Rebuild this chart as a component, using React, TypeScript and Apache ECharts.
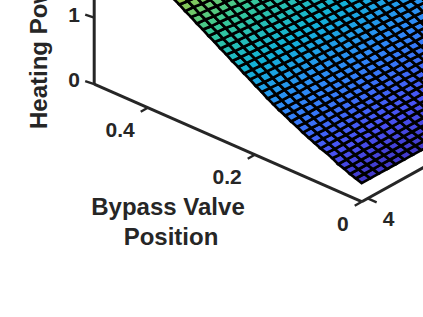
import React, { useEffect, useRef } from "react";
import * as echarts from "echarts";

const valveStep = 0.011;
// Heating power: one row per valve position, one value per temperature step
const powerRows: number[][] = [
  [.28,.28,.28,.28,.28,.28,.28,.28,.28,.28],
  [.31,.31,.31,.31,.31,.31,.31,.31,.31,.31,.31],
  [.34,.34,.34,.34,.34,.34,.34,.34,.34,.34,.34,.33],
  [.38,.37,.37,.37,.37,.37,.37,.37,.37,.37,.37,.36],
  [.41,.41,.41,.41,.40,.40,.40,.40,.40,.40,.40,.40,.39],
  [.46,.45,.45,.45,.45,.45,.44,.44,.44,.44,.44,.43,.43,.43],
  [.50,.49,.49,.49,.49,.48,.48,.48,.48,.48,.47,.47,.47,.47,.46],
  [.53,.53,.53,.52,.52,.52,.52,.51,.51,.51,.51,.50,.50,.50,.50],
  [.57,.57,.56,.56,.56,.56,.55,.55,.55,.54,.54,.54,.54,.53,.53,.53],
  [.61,.61,.60,.60,.60,.59,.59,.59,.58,.58,.58,.57,.57,.57,.56,.56,.56],
  [.65,.65,.64,.64,.64,.63,.63,.62,.62,.62,.61,.61,.61,.60,.60,.59,.59,.59],
  [.70,.69,.69,.69,.68,.68,.67,.67,.66,.66,.65,.65,.65,.64,.64,.63,.63,.62],
  [.74,.74,.73,.73,.72,.72,.71,.71,.70,.70,.69,.69,.68,.68,.68,.67,.67,.66,.66],
  [.79,.78,.78,.77,.77,.76,.75,.75,.74,.74,.73,.73,.72,.72,.71,.71,.70,.70,.69],
  [.83,.82,.82,.81,.81,.80,.80,.79,.79,.78,.78,.77,.76,.76,.75,.75,.74,.74,.73,.73],
  [.88,.87,.87,.86,.86,.85,.84,.84,.83,.83,.82,.81,.81,.80,.80,.79,.78,.78,.77,.77,.76],
  [.93,.92,.92,.91,.90,.90,.89,.88,.88,.87,.87,.86,.85,.85,.84,.83,.83,.82,.81,.81,.80,.79],
  [.99,.98,.97,.96,.96,.95,.94,.94,.93,.92,.91,.91,.90,.89,.89,.88,.87,.86,.86,.85,.84,.84],
  [1.04,1.03,1.02,1.02,1.01,1.00,.99,.99,.98,.97,.96,.96,.95,.94,.93,.93,.92,.91,.90,.90,.89,.88,.87],
  [1.10,1.09,1.08,1.07,1.06,1.05,1.05,1.04,1.03,1.02,1.01,1.00,1.00,.99,.98,.97,.96,.96,.95,.94,.93,.92,.91],
  [1.15,1.14,1.13,1.12,1.12,1.11,1.10,1.09,1.08,1.07,1.06,1.05,1.05,1.04,1.03,1.02,1.01,1.00,.99,.98,.98,.97],
  [1.21,1.20,1.19,1.18,1.17,1.16,1.15,1.14,1.13,1.12,1.11,1.10,1.09,1.08,1.07,1.07,1.06,1.05,1.04,1.03,1.02],
  [1.26,1.25,1.24,1.23,1.22,1.21,1.20,1.19,1.18,1.17,1.16,1.15,1.14,1.13,1.12,1.11,1.10,1.09,1.08,1.07],
  [1.32,1.30,1.29,1.28,1.27,1.26,1.25,1.24,1.23,1.22,1.21,1.20,1.19,1.18,1.17,1.16,1.15,1.14,1.13],
  [1.37,1.36,1.35,1.34,1.33,1.32,1.30,1.29,1.28,1.27,1.26,1.25,1.24,1.23,1.22,1.21,1.20,1.18],
  [1.43,1.41,1.40,1.39,1.38,1.37,1.36,1.34,1.33,1.32,1.31,1.30,1.29,1.28,1.26,1.25,1.24],
  [1.48,1.47,1.46,1.44,1.43,1.42,1.41,1.40,1.38,1.37,1.36,1.35,1.34,1.32,1.31,1.30],
  [1.54,1.52,1.51,1.50,1.48,1.47,1.46,1.45,1.43,1.42,1.41,1.40,1.38,1.37,1.36],
  [1.59,1.58,1.56,1.55,1.54,1.52,1.51,1.50,1.49,1.47,1.46,1.45,1.43,1.42],
  [1.65,1.63,1.62,1.60,1.59,1.58,1.56,1.55,1.53,1.52,1.51,1.49,1.48],
  [1.70,1.69,1.67,1.66,1.64,1.63,1.61,1.60,1.59,1.57,1.56,1.54],
  [1.76,1.74,1.73,1.71,1.70,1.68,1.67,1.65,1.64,1.62],
  [1.81,1.79,1.78,1.76,1.75,1.73,1.72,1.70],
  [1.87,1.85,1.83,1.82,1.80,1.79],
  [1.92,1.90,1.89,1.87],
];

const valveTicks = [0, 0.2, 0.4];
const valveTickLabels = ["0", "0.2", "0.4"];
const powerTicks = [0, 1];
const powerTickLabels = ["0", "1"];
const tempTicks = [0.7];
const tempTickLabels = ["4"];
const valveMax = 0.5;
const powerAxisTop = 1.3;
const tempAxisEnd = 8;
const valveTitle = ["Bypass Valve", "Position"];
const powerTitle = "Heating Power";

const parula = [
  [62, 38, 168], [72, 82, 244], [46, 135, 247], [18, 177, 214],
  [55, 200, 151], [171, 199, 58], [254, 195, 56],
];
const powerColorMin = 0.14;
const powerColorMax = 2.18;

function colorOf(z: number) {
  const t = Math.min(1, Math.max(0, (z - powerColorMin) / (powerColorMax - powerColorMin))) * (parula.length - 1);
  const i = Math.min(parula.length - 2, Math.floor(t));
  const f = t - i;
  const c = parula[i].map((a, k) => Math.round(a + (parula[i + 1][k] - a) * f));
  return `rgb(${c[0]},${c[1]},${c[2]})`;
}

// Oblique projection of (valve, temperature step, power) to the plane of the picture
function project(v: number, t: number, z: number): [number, number] {
  return [361.7 - 535 * v + 8.5 * t, 201.7 - 235 * v - 4.7 * t - 66.5 * z];
}

const cells: number[][] = [];
powerRows.forEach((row, r) => {
  if (r + 1 >= powerRows.length) return;
  row.forEach((_, c) => {
    if (c + 1 < row.length && c + 1 < powerRows[r + 1].length) cells.push([r, c]);
  });
});

const ink = "#262626";

export default function App() {
  const ref = useRef<HTMLDivElement>(null);
  useEffect(() => {
    document.body.style.margin = "0";
    const chart = echarts.init(ref.current!, undefined, { renderer: "svg" });
    const P = (api: any, v: number, t: number, z: number) => api.coord(project(v, t, z));
    const seg = (a: number[], b: number[], w: number) => ({
      type: "line",
      shape: { x1: a[0], y1: a[1], x2: b[0], y2: b[1] },
      style: { stroke: ink, lineWidth: w, lineCap: "butt" },
    });
    const label = (text: string, p: number[], align = "center") => ({
      type: "text",
      x: p[0],
      y: p[1],
      style: {
        text, fill: ink, font: "bold 21px 'Liberation Sans'",
        align, verticalAlign: "middle",
      },
    });
    chart.setOption({
      animation: false,
      backgroundColor: "#fff",
      grid: { left: 0, right: 0, top: 0, bottom: 0 },
      xAxis: { type: "value", min: 0, max: 423, show: false },
      yAxis: { type: "value", min: 0, max: 317, inverse: true, show: false },
      series: [
        {
          type: "custom",
          coordinateSystem: "cartesian2d",
          clip: false,
          data: [[0]],
          silent: true,
          renderItem: (_: any, api: any) => {
            const children: any[] = [];
            children.push(seg(P(api, valveMax, 0, 0), P(api, 0, 0, 0), 3));
            children.push(seg(P(api, valveMax, 0, 0), P(api, valveMax, 0, powerAxisTop), 3));
            children.push(seg(P(api, 0, 0, 0), P(api, 0, tempAxisEnd, 0), 3));
            valveTicks.forEach((v, i) => {
              const p = P(api, v, 0, 0);
              children.push(seg(p, [p[0] - 7, p[1] + 4], 2.4));
              children.push(label(valveTickLabels[i], [p[0] - 13, p[1] + 22], "right"));
            });
            powerTicks.forEach((z, i) => {
              const p = P(api, valveMax, 0, z);
              children.push(seg(p, [p[0] - 9, p[1] - 3], 2.4));
              children.push(label(powerTickLabels[i], [p[0] - 20, p[1] - 3 - 2 * (1 - i)]));
            });
            tempTicks.forEach((t, i) => {
              const p = P(api, 0, t, 0);
              children.push(seg(p, [p[0] + 9, p[1] + 4], 2.4));
              children.push(label(tempTickLabels[i], [p[0] + 21, p[1] + 20]));
            });
            return { type: "group", children };
          },
        },
        {
          type: "custom",
          coordinateSystem: "cartesian2d",
          clip: false,
          silent: true,
          data: cells,
          renderItem: (_: any, api: any) => {
            const r = api.value(0);
            const c = api.value(1);
            const vAt = (k: number) => k * valveStep;
            const corners = [
              [r, c], [r, c + 1], [r + 1, c + 1], [r + 1, c],
            ];
            const zs = corners.map(([a, b]) => powerRows[a][b]);
            const pts = corners.map(([a, b], k) => P(api, vAt(a), b, zs[k]));
            const mean = zs.reduce((s, x) => s + x, 0) / 4;
            return {
              type: "polygon",
              shape: { points: pts },
              style: { fill: colorOf(mean), stroke: "#000", lineWidth: 2.7, lineJoin: "miter" },
            };
          },
        },
      ],
      graphic: [
        {
          type: "text", x: 168, y: 206,
          style: { text: valveTitle[0], fill: ink, font: "bold 24px 'Liberation Sans'", align: "center", verticalAlign: "middle" },
        },
        {
          type: "text", x: 171, y: 236,
          style: { text: valveTitle[1], fill: ink, font: "bold 24px 'Liberation Sans'", align: "center", verticalAlign: "middle" },
        },
        {
          type: "text", x: 38, y: 129, rotation: Math.PI / 2,
          style: { text: powerTitle, fill: ink, font: "bold 24px 'Liberation Sans'", align: "left", verticalAlign: "middle" },
        },
      ],
    });
    return () => chart.dispose();
  }, []);
  return <div ref={ref} style={{ position: "absolute", left: 0, top: 0, width: 423, height: 317 }} />;
}
